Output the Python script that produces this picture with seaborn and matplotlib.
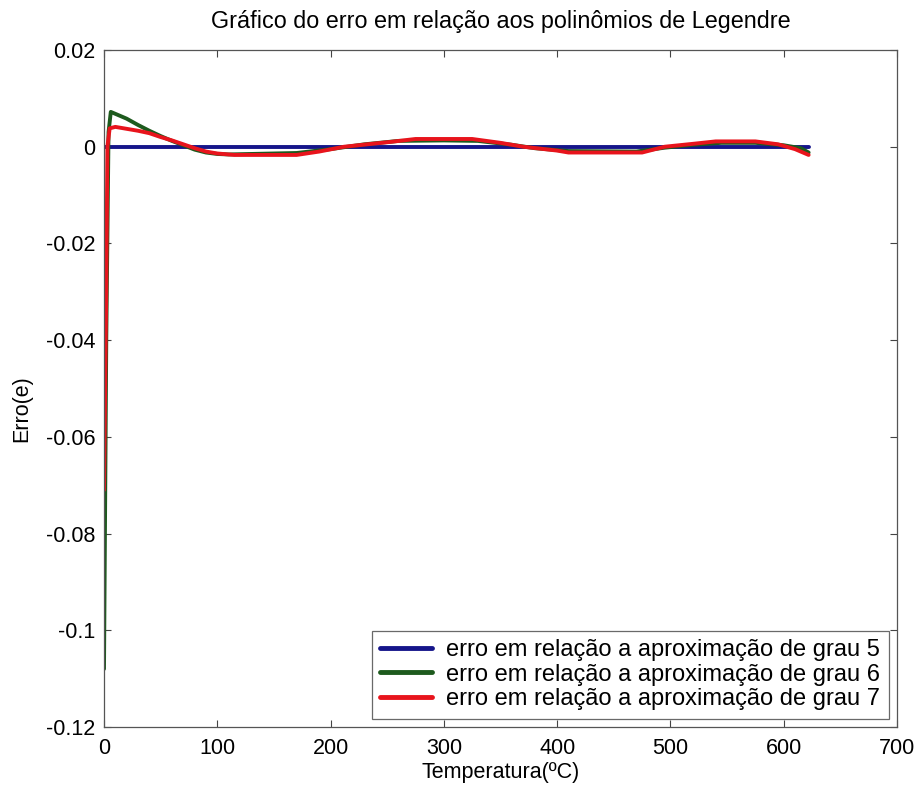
import numpy as np
import pandas as pd
import matplotlib
matplotlib.use("Agg")
import matplotlib.pyplot as plt
import seaborn as sns

# ---- data ----
blue_x = [0, 622]
blue_y = [0.0, 0.0]

green_x = [0, 2, 4, 6, 10, 20, 30, 40, 50, 60, 70, 80, 90, 100, 110, 130, 170,
           200, 230, 260, 300, 330, 360, 380, 410, 470, 495, 520, 545, 575, 600,
           615, 622]
green_y = [-0.108, -0.04, 0.003, 0.0072, 0.0068, 0.0058, 0.0045, 0.0033, 0.0022,
           0.0012, 0.0003, -0.0006, -0.0012, -0.0015, -0.0016, -0.0015, -0.0013,
           -0.0005, 0.0005, 0.0012, 0.0013, 0.0012, 0.0004, -0.0003, -0.0009,
           -0.0010, -0.0002, 0.0004, 0.0008, 0.0008, 0.0003, -0.0003, -0.0012]

red_x = [0, 2, 3, 5, 10, 20, 30, 40, 50, 60, 70, 80, 90, 100, 115, 170, 190,
         212, 253, 275, 325, 350, 370, 400, 410, 475, 495, 520, 540, 575, 595,
         610, 622]
red_y = [-0.071, -0.03, 0.0, 0.0038, 0.0041, 0.0037, 0.0033, 0.0028, 0.0020,
         0.0013, 0.0005, -0.0003, -0.0010, -0.0014, -0.0017, -0.0017, -0.0010,
         0.0, 0.0010, 0.0016, 0.0016, 0.0008, 0.0, -0.0008, -0.0012, -0.0012,
         0.0, 0.0006, 0.0011, 0.0011, 0.0005, -0.0005, -0.0017]

labels = ["erro em relação a aproximação de grau 5",
          "erro em relação a aproximação de grau 6",
          "erro em relação a aproximação de grau 7"]
colors = ["#15158a", "#1d5a1d", "#e8141c"]

x_ticks = [0, 100, 200, 300, 400, 500, 600, 700]
y_ticks = [0.02, 0, -0.02, -0.04, -0.06, -0.08, -0.1, -0.12]
y_tick_labels = ["0.02", "0", "-0.02", "-0.04", "-0.06", "-0.08", "-0.1", "-0.12"]

title = "Gráfico do erro em relação aos polinômios de Legendre"
xlabel = "Temperatura(ºC)"
ylabel = "Erro(e)"

# ---- plot ----
sns.set_style("white")
plt.rcParams["font.family"] = ["Liberation Sans", "DejaVu Sans"]
plt.rcParams["axes.unicode_minus"] = False
plt.rcParams["text.color"] = "black"
plt.rcParams["axes.labelcolor"] = "black"

fig = plt.figure(figsize=(9.23, 7.91), dpi=100)
ax = fig.add_axes([104 / 923, 64 / 791, 793 / 923, 677 / 791])

series = [(blue_x, blue_y), (green_x, green_y), (red_x, red_y)]
for (xs, ys), lab, col in zip(series, labels, colors):
    df = pd.DataFrame({"x": xs, "y": ys})
    sns.lineplot(data=df, x="x", y="y", ax=ax, color=col, linewidth=2.8,
                 label=lab, sort=False, estimator=None)

ax.set_xlim(0, 700)
ax.set_ylim(-0.12, 0.02)
ax.set_xticks(x_ticks)
ax.set_xticklabels([str(t) for t in x_ticks])
ax.set_yticks(y_ticks)
ax.set_yticklabels(y_tick_labels)
ax.tick_params(axis="both", direction="in", length=5, width=0.8, labelsize=15.5,
               top=True, right=True, bottom=True, left=True, colors="#444444",
               labelcolor="black")
ax.tick_params(axis="x", pad=8)
ax.tick_params(axis="y", pad=6)
for s in ax.spines.values():
    s.set_color("#555555")
    s.set_linewidth(0.9)

ax.set_title(title, fontsize=16.8, pad=16, color="black")
ax.set_xlabel(xlabel, fontsize=15.5, labelpad=2, color="black")
ax.set_ylabel(ylabel, fontsize=15.5, color="black")
ax.yaxis.set_label_coords(-0.09, 0.47)

leg = ax.legend(loc="lower right", fontsize=17, frameon=True, fancybox=False,
                borderaxespad=0.35, handlelength=2.2, handletextpad=0.6,
                labelspacing=0.12, borderpad=0.35)
leg.get_frame().set_edgecolor("#444444")
leg.get_frame().set_linewidth(0.9)
for text in leg.get_texts():
    text.set_color("black")
for line in leg.get_lines():
    line.set_linewidth(3.5)

fig.savefig("out.png", dpi=100)
